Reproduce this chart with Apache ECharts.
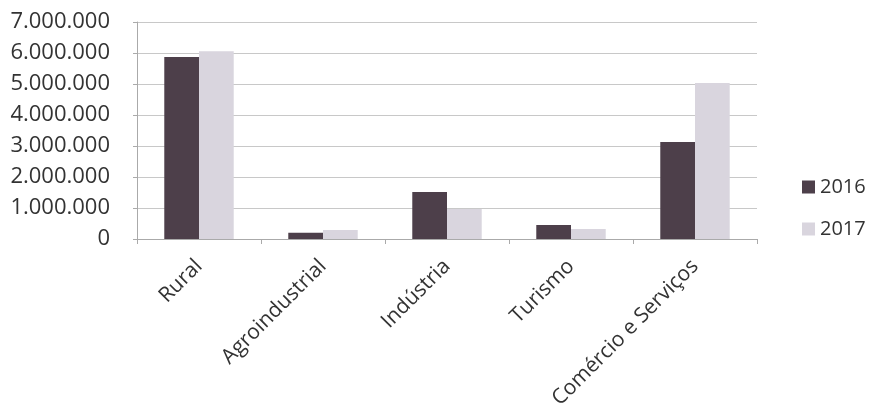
<!DOCTYPE html>
<html><head><meta charset="utf-8">
<script src="https://cdn.jsdelivr.net/npm/echarts@6/dist/echarts.min.js"></script>
<style>html,body{margin:0;padding:0;background:#fff}#c{width:869px;height:416px}</style>
</head><body><div id="c"></div>
<script>
const categories = ['Rural', 'Agroindustrial', 'Indústria', 'Turismo', 'Comércio e Serviços'];
const values2016 = [5870000, 200000, 1520000, 450000, 3130000];
const values2017 = [6060000, 290000, 970000, 320000, 5030000];
const seriesNames = ['2016', '2017'];

const fmt = v => String(v).replace(/\B(?=(\d{3})+(?!\d))/g, '.');
const chart = echarts.init(document.getElementById('c'));
chart.setOption({
  animation: false,
  backgroundColor: '#fff',
  textStyle: { fontFamily: 'Open Sans' },
  grid: { left: 137, right: 112, top: 22, bottom: 177 },
  legend: {
    orient: 'vertical', left: 797, top: 172, itemGap: 22,
    itemWidth: 13, itemHeight: 13, icon: 'rect',
    textStyle: { fontSize: 20, color: '#333', fontFamily: 'Open Sans' },
    data: seriesNames
  },
  xAxis: {
    type: 'category', data: categories,
    axisLine: { lineStyle: { color: '#aaa' } },
    axisTick: { show: true, lineStyle: { color: '#aaa' }, length: 5 },
    axisLabel: { rotate: 45, fontSize: 21, color: '#333', margin: 24, interval: 0 }
  },
  yAxis: {
    type: 'value', min: 0, max: 7000000, interval: 1000000,
    axisLine: { show: true, lineStyle: { color: '#aaa' } },
    axisTick: { show: true, lineStyle: { color: '#aaa' }, length: 4 },
    splitLine: { lineStyle: { color: '#c8c8c8' } },
    axisLabel: { fontSize: 22, color: '#333', margin: 27, formatter: fmt }
  },
  series: [
    { name: seriesNames[0], type: 'bar', data: values2016, barGap: '0%', barCategoryGap: '44%',
      itemStyle: { color: '#4d3f4a' } },
    { name: seriesNames[1], type: 'bar', data: values2017, barGap: '0%', barCategoryGap: '44%',
      itemStyle: { color: '#d9d5de' } }
  ]
});
</script></body></html>
